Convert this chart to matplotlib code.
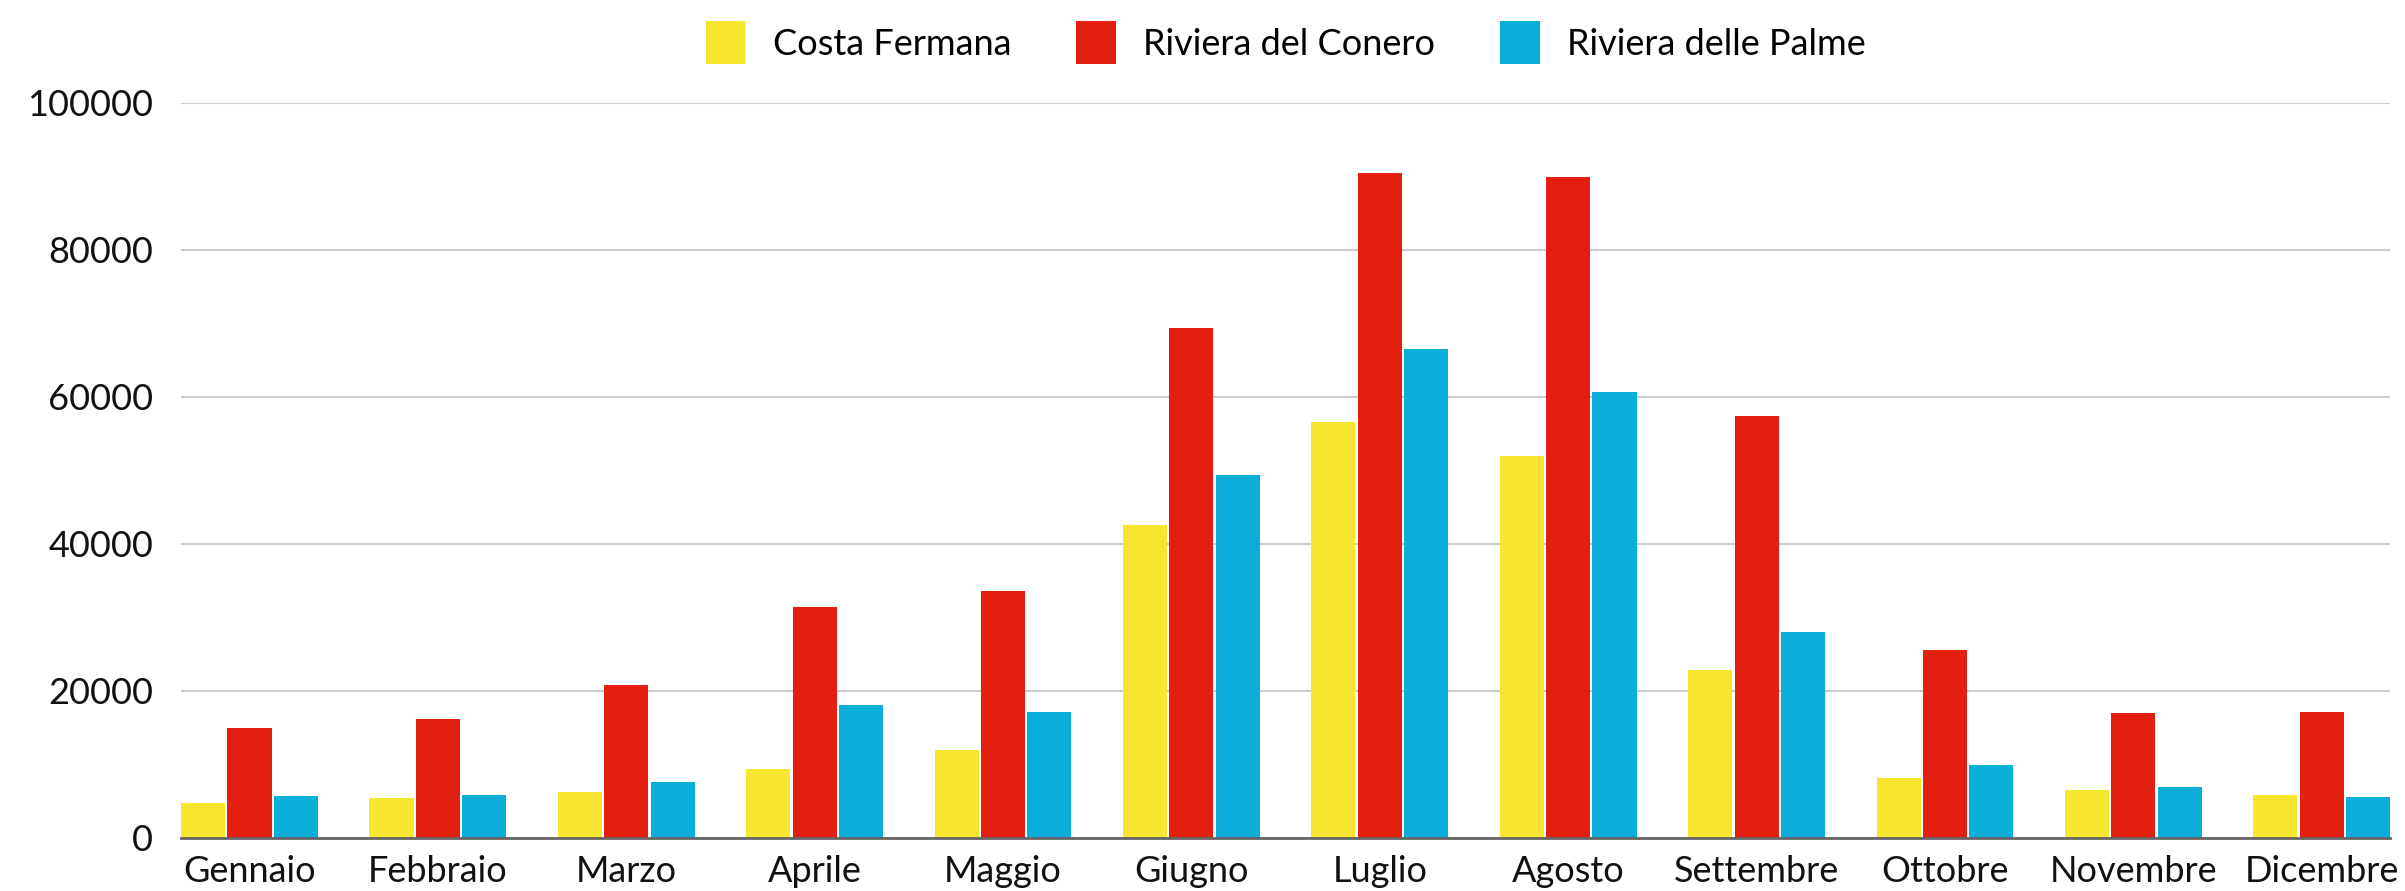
import matplotlib
matplotlib.use("Agg")
import matplotlib.pyplot as plt
import numpy as np

plt.rcParams['font.family'] = ['Lato', 'DejaVu Sans']

months = ["Gennaio", "Febbraio", "Marzo", "Aprile", "Maggio", "Giugno",
          "Luglio", "Agosto", "Settembre", "Ottobre", "Novembre", "Dicembre"]

costa_fermana = [4750, 5450, 6250, 9400, 12000, 42600, 56600, 52000, 22850, 8150, 6550, 5850]
riviera_conero = [14950, 16200, 20800, 31400, 33600, 69400, 90500, 89900, 57400, 25600, 17000, 17150]
riviera_palme = [5700, 5850, 7600, 18100, 17150, 49400, 66500, 60700, 28000, 9950, 6950, 5600]

series = ["Costa Fermana", "Riviera del Conero", "Riviera delle Palme"]
colors = ["#F6E62F", "#E3200F", "#0AAEDB"]

fig = plt.figure(figsize=(24.05, 8.91), dpi=100)
ax = fig.add_axes([0.0753, 0.0595, 0.9185, 0.8249])

x = np.arange(len(months))
w = 0.234
offs = [-0.246, 0, 0.246]
for vals, name, c, o in zip([costa_fermana, riviera_conero, riviera_palme], series, colors, offs):
    ax.bar(x + o, vals, width=w, color=c, label=name, zorder=3)

ax.set_xlim(-0.363, 11.363)
ax.set_ylim(0, 100000)
ax.set_yticks([0, 20000, 40000, 60000, 80000, 100000])
ax.yaxis.grid(True, color="#cccccc", linewidth=1.5, zorder=0)
ax.set_axisbelow(True)
ax.set_xticks(x)
ax.set_xticklabels(months)
ax.tick_params(axis="both", length=0, labelsize=26, colors="#111111")
ax.tick_params(axis="y", pad=20)
ax.tick_params(axis="x", pad=12)

for s in ["top", "left", "right"]:
    ax.spines[s].set_visible(False)
ax.spines["bottom"].set_color("#666666")
ax.spines["bottom"].set_linewidth(2)
ax.spines["bottom"].set_zorder(4)

ax.legend(loc="center", bbox_to_anchor=(0.5, 1.082), ncol=3, frameon=False,
          fontsize=26, handlelength=1.1, handleheight=1.45,
          handletextpad=0.75, columnspacing=1.8)

fig.savefig("out.png", dpi=100)
